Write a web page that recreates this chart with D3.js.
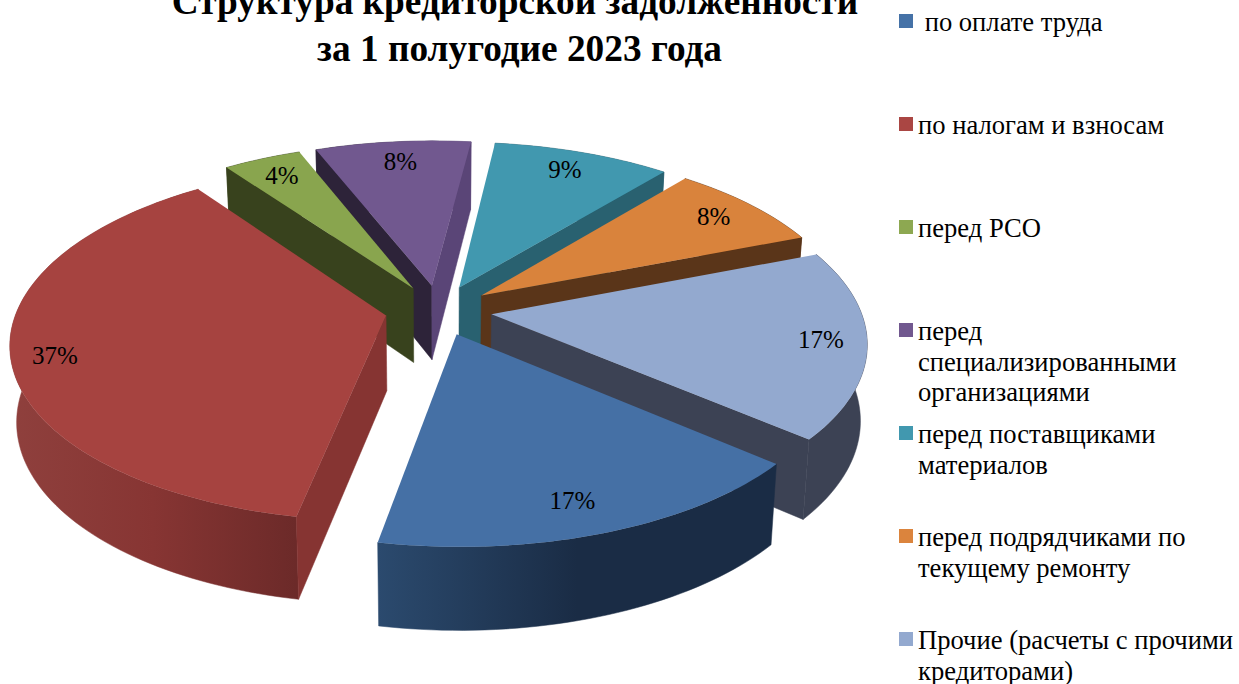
<!DOCTYPE html>
<html>
<head>
<meta charset="utf-8">
<script src="https://cdn.jsdelivr.net/npm/d3@7"></script>
<style>
    html, body { margin: 0; padding: 0; background: #fff; overflow: hidden; }
    text { font-family: "Liberation Serif", serif; fill: #000; }
</style>
</head>
<body>
<div id="chart"></div>
<script>
const categories = ["по оплате труда", "по налогам и взносам", "перед РСО", "перед специализированными организациями",
    "перед поставщиками материалов", "перед подрядчиками по текущему ремонту", "Прочие (расчеты с прочими кредиторами)"];
const shares = [16.72, 37.08, 3.97, 7.92, 9.03, 8.14, 17.14];
const legendLines = [
    [" по оплате труда"],
    ["по налогам и взносам"],
    ["перед РСО"],
    ["перед", "специализированными", "организациями"],
    ["перед поставщиками", "материалов"],
    ["перед подрядчиками по", "текущему ремонту"],
    ["Прочие (расчеты с прочими", "кредиторами)"]
];
const titleLines = ["Структура кредиторской задолженности", "за 1 полугодие 2023 года"];

const topColors = ["#4570a5", "#a64340", "#89a54e", "#71588f", "#4198af", "#d9833c", "#93a9cf"];
const legendColors = ["#4572a7", "#aa4643", "#8da851", "#71588f", "#4198af", "#db843d", "#93a9cf"];
// side walls: [start cut, end cut]
const cutColors = [["#2b4a6e", "#1a2c45"], ["#863432", "#863432"], ["#38421d", "#38421d"], ["#2d2339", "#5a4577"],
    ["#296170", "#296170"], ["#5a3519", "#5a3519"], ["#3c4254", "#3c4254"]];
const rimColors = [["#2b4a6e", "#1a2c45", "#1a2c45"], ["#8f403d", "#873533", "#6c2a29"], ["#38421d", "#38421d"], ["#2d2339", "#5a4577"],
    ["#296170", "#296170"], ["#5a3519", "#5a3519"], ["#3c4254", "#3c4254"]];
const labelRadius = [0.85, 0.89, 0.84, 0.81, 0.84, 0.84, 0.9];
const labelNudge = [[-8, 2], [2, 6], [-2, -2], [1, -4], [0, -2], [4, -1], [-8, -1]];
const paintOrder = [3, 2, 4, 5, 6, 1, 0];

const width = 1239, height = 684;
const CX = 438.5, CY = 310, RX = 369, TILT = 0.469, PERSP = 0.149;
const DEPTH = 75, EXPLODE = 0.145;
const START_DEG = 130.5;

const svg = d3.select("#chart").append("svg")
    .attr("width", width)
    .attr("height", height)
    .attr("viewBox", `0 0 ${width} ${height}`)
    .style("display", "block");
const defs = svg.append("defs");

const pie = d3.pie()
    .sort(null)
    .startAngle(START_DEG * Math.PI / 180)
    .endAngle((START_DEG + 360) * Math.PI / 180);
const slices = pie(shares);
const radius = d3.scaleLinear().domain([0, 1]).range([0, 1]);
const line = d3.line();
const fmt = d => `${d3.format(".0f")(d)}%`;

// angle is clockwise from the back of the pie, like d3.pie
function world(slice, r, angle) {
    const mid = (slice.startAngle + slice.endAngle) / 2;
    return [
        radius(r) * Math.sin(angle) + EXPLODE * Math.sin(mid),
        -radius(r) * Math.cos(angle) - EXPLODE * Math.cos(mid)
    ];
}

function topPoint([x, z]) {
    const w = 1 - PERSP * z;
    return [CX + RX * x / w, CY + RX * TILT * z / w];
}

function bottomPoint([x, z]) {
    const [sx, sy] = topPoint([x, z]);
    return [CX + (sx - CX) * 0.984, sy + DEPTH / (1 - 0.09 * z)];
}

function arcPoints(slice) {
    const n = Math.max(8, Math.ceil((slice.endAngle - slice.startAngle) * 40));
    return d3.range(n + 1).map(i =>
        world(slice, 1, slice.startAngle + (slice.endAngle - slice.startAngle) * i / n));
}

function gradient(id, colors, x0, x1) {
    const g = defs.append("linearGradient")
        .attr("id", id)
        .attr("gradientUnits", "userSpaceOnUse")
        .attr("x1", x0).attr("x2", x1).attr("y1", 0).attr("y2", 0);
    colors.forEach((c, i) => g.append("stop")
        .attr("offset", i / (colors.length - 1))
        .attr("stop-color", c));
    return `url(#${id})`;
}

const pieLayer = svg.append("g");

paintOrder.forEach(i => {
    const slice = slices[i];
    const g = pieLayer.append("g");
    const apex = world(slice, 0, 0);
    const rim = arcPoints(slice);
    const rimTop = rim.map(topPoint);
    const rimBottom = rim.map(bottomPoint);

    // outer wall, the top face hides its back part
    const xs = d3.extent(rimTop, p => p[0]);
    const rimFill = gradient(`rim${i}`, rimColors[i], xs[0], xs[1]);
    g.append("path")
        .attr("d", line(rimTop.concat(rimBottom.slice().reverse())) + "Z")
        .attr("fill", rimFill)
        .attr("stroke", rimFill)
        .attr("stroke-width", 0.5);

    // cut walls, only the ones turned towards the viewer
    const startEdge = [apex, rim[0]];
    const endEdge = [rim[rim.length - 1], apex];
    [startEdge, endEdge].forEach((edge, j) => {
        const quad = [topPoint(edge[0]), topPoint(edge[1]), bottomPoint(edge[1]), bottomPoint(edge[0])];
        if (d3.polygonArea(quad) > 0) {
            g.append("path")
                .attr("d", line(quad) + "Z")
                .attr("fill", cutColors[i][j])
                .attr("stroke", cutColors[i][j])
                .attr("stroke-width", 0.5);
        }
    });

    g.append("path")
        .attr("d", line([topPoint(apex)].concat(rimTop)) + "Z")
        .attr("fill", topColors[i]);
});

// data labels
svg.append("g")
    .selectAll("text")
    .data(slices)
    .join("text")
    .attr("x", (d, i) => topPoint(world(d, labelRadius[i], (d.startAngle + d.endAngle) / 2))[0] + labelNudge[i][0])
    .attr("y", (d, i) => topPoint(world(d, labelRadius[i], (d.startAngle + d.endAngle) / 2))[1] + 8 + labelNudge[i][1])
    .attr("text-anchor", "middle")
    .attr("font-size", 25)
    .text(d => fmt(d.value));

// title
svg.append("g")
    .selectAll("text")
    .data(titleLines)
    .join("text")
    .attr("x", (d, i) => i ? 519.5 : 515)
    .attr("y", (d, i) => 14 + i * 47)
    .attr("text-anchor", "middle")
    .attr("font-size", 37.3)
    .attr("font-weight", "bold")
    .text(d => d);

// legend
const legendY = d3.scaleLinear().domain([0, categories.length - 1]).range([14, 632]);
const legend = svg.append("g")
    .selectAll("g")
    .data(categories)
    .join("g")
    .attr("transform", (d, i) => `translate(899,${legendY(i)})`);

legend.append("rect")
    .attr("width", 14)
    .attr("height", 14)
    .attr("fill", (d, i) => legendColors[i]);

legend.append("text")
    .attr("font-size", 26.6)
    .attr("xml:space", "preserve")
    .selectAll("tspan")
    .data((d, i) => legendLines[i])
    .join("tspan")
    .attr("x", 19)
    .attr("y", (d, i) => 17 + i * 30.7)
    .text(d => d);
</script>
</body>
</html>
